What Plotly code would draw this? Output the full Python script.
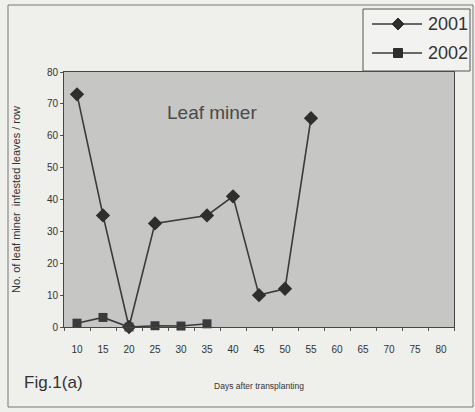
import plotly.graph_objects as go

days = ["10", "15", "20", "25", "30", "35", "40", "45", "50", "55", "60", "65", "70", "75", "80"]
y2001 = [73, 35, 0, 32.5, None, 35, 41, 10, 12, 65.5, None, None, None, None, None]
y2002 = [1.2, 3, 0, 0.4, 0.3, 1, None, None, None, None, None, None, None, None, None]
y_ticks = [0, 10, 20, 30, 40, 50, 60, 70, 80]
series_names = ["2001", "2002"]

W, H = 475, 412
L, R, T, B = 64, 21, 72, 85
PW, PH = W - L - R, H - T - B


def px(x):
    return (x - L) / PW


def py(y):
    return (H - B - y) / PH


fig = go.Figure()
fig.add_trace(go.Scatter(
    x=days, y=y2001, name=series_names[0], mode="lines+markers", connectgaps=True,
    line=dict(color="#3a3a3a", width=1.6),
    marker=dict(symbol="diamond", size=11, color="#2e2e2e"),
    cliponaxis=False, showlegend=False,
))
fig.add_trace(go.Scatter(
    x=days, y=y2002, name=series_names[1], mode="lines+markers", connectgaps=True,
    line=dict(color="#3a3a3a", width=1.6),
    marker=dict(symbol="square", size=9, color="#3a3a3a"),
    cliponaxis=False, showlegend=False,
))

# manual legend (box, sample lines, symbols, labels)
shapes = [
    dict(type="rect", xref="paper", yref="paper", x0=px(8), x1=px(473), y0=py(407), y1=py(5),
         line=dict(color="#777", width=1), fillcolor="rgba(0,0,0,0)", layer="below"),
    dict(type="rect", xref="paper", yref="paper", x0=px(363), x1=px(470), y0=py(71), y1=py(9),
         line=dict(color="#555", width=1), fillcolor="#f2f2f0"),
]
rows = [24, 53]
paths = ["M -6 0 L 0 6 L 6 0 L 0 -6 Z", "M -4.5 -4.5 L 4.5 -4.5 L 4.5 4.5 L -4.5 4.5 Z"]
annotations = []
for name, ry, path in zip(series_names, rows, paths):
    shapes.append(dict(type="line", xref="paper", yref="paper", x0=px(372), x1=px(422),
                       y0=py(ry), y1=py(ry), line=dict(color="#3a3a3a", width=1.6)))
    shapes.append(dict(type="path", xref="paper", yref="paper", xsizemode="pixel", ysizemode="pixel",
                       xanchor=px(398), yanchor=py(ry), path=path,
                       line=dict(color="#2e2e2e", width=1), fillcolor="#2e2e2e"))
    annotations.append(dict(text=name, x=px(426), y=py(ry), xref="paper", yref="paper",
                            xanchor="left", yanchor="middle", showarrow=False,
                            font=dict(size=18, color="#333")))

annotations += [
    dict(text="Leaf miner", x=px(212), y=py(112), xref="paper", yref="paper",
         xanchor="center", yanchor="middle",
         showarrow=False, font=dict(size=19, color="#4a4a4a")),
    dict(text="Fig.1(a)", x=px(22), y=py(382), xref="paper", yref="paper",
         xanchor="left", yanchor="middle",
         showarrow=False, font=dict(size=17, color="#333")),
]

fig.update_layout(
    width=W, height=H,
    margin=dict(l=L, r=R, t=T, b=B, autoexpand=False),
    paper_bgcolor="#efefec",
    plot_bgcolor="#c6c6c4",
    font=dict(family="Liberation Sans, Arial, sans-serif", color="#333"),
    showlegend=False,
    xaxis=dict(
        type="category", categoryorder="array", categoryarray=days,
        range=[-0.5, 14.5], showgrid=False, zeroline=False,
        showline=True, linecolor="#444", linewidth=1, mirror=True,
        ticks="outside", ticklen=3, tickcolor="#555", tickson="boundaries",
        ticklabelstandoff=13,
        tickfont=dict(size=10, family="Liberation Sans Narrow, Arial Narrow, sans-serif", color="#333"),
        title=dict(text="Days after transplanting", font=dict(size=8.5, color="#333"), standoff=29),
        automargin=False,
    ),
    yaxis=dict(
        range=[0, 80], tickvals=y_ticks, showgrid=False, zeroline=False,
        showline=True, linecolor="#444", linewidth=1, mirror=True,
        ticks="outside", ticklen=3, tickcolor="#555",
        ticklabelstandoff=0,
        tickfont=dict(size=10, family="Liberation Sans Narrow, Arial Narrow, sans-serif", color="#333"),
        title=dict(text="No. of leaf miner  infested leaves / row", font=dict(size=11, color="#333"), standoff=24),
        automargin=False,
    ),
    shapes=shapes,
    annotations=annotations,
)

fig.write_html("out.html", config={"displayModeBar": False},
               post_script="document.body.style.margin='0px';document.body.style.padding='0px';")
